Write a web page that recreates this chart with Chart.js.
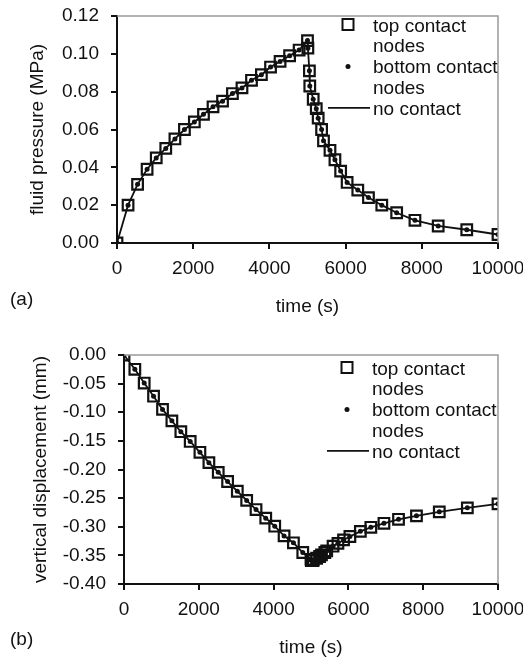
<!DOCTYPE html>
<html>
<head>
<meta charset="utf-8">
<script src="https://cdn.jsdelivr.net/npm/chart.js@4.4.1/dist/chart.umd.min.js"></script>
<style>
  html, body { margin: 0; padding: 0; background: #fff; }
  #wrap { position: relative; width: 523px; height: 660px; }
  canvas { position: absolute; left: 0; }
  #chartA { top: 0; }
  #chartB { top: 330px; }
</style>
</head>
<body>
<div id="wrap">
  <canvas id="chartA" width="523" height="330"></canvas>
  <canvas id="chartB" width="523" height="330"></canvas>
</div>
<script>
// time steps shared by both panels (s)
const time = [0, 290, 540, 790, 1030, 1280, 1520, 1770, 2030, 2270, 2520, 2770, 3030, 3280, 3530, 3790,
  4030, 4280, 4530, 4780, 5000, 5010, 5050, 5060, 5150, 5230, 5280, 5370, 5420, 5590, 5720, 5870,
  6040, 6320, 6600, 6950, 7340, 7820, 8430, 9180, 10000];

// (a) fluid pressure (MPa)
const pressure = [0.000, 0.020, 0.031, 0.039, 0.045, 0.050, 0.055, 0.060, 0.064, 0.068, 0.072, 0.075,
  0.079, 0.082, 0.086, 0.089, 0.093, 0.096, 0.099, 0.102, 0.107, 0.103, 0.091, 0.083, 0.076, 0.071,
  0.066, 0.060, 0.054, 0.049, 0.044, 0.038, 0.032, 0.028, 0.024, 0.020, 0.016, 0.012, 0.009, 0.007, 0.0045];

// (b) vertical displacement (mm)
const displacement = [0.000, -0.025, -0.049, -0.072, -0.095, -0.115, -0.134, -0.151, -0.170, -0.188,
  -0.205, -0.221, -0.238, -0.254, -0.270, -0.285, -0.299, -0.316, -0.328, -0.345, -0.357, -0.359,
  -0.359, -0.358, -0.355, -0.352, -0.349, -0.345, -0.342, -0.334, -0.329, -0.323, -0.317, -0.308,
  -0.301, -0.294, -0.287, -0.281, -0.274, -0.267, -0.260];

const legendLabels = [['top contact', 'nodes'], ['bottom contact', 'nodes'], ['no contact']];
const xTicks = [0, 2000, 4000, 6000, 8000, 10000];

const FONT = '"Liberation Sans", Arial, sans-serif';
const INK = '#111';

const toXY = (xs, ys) => xs.map((x, i) => ({ x: x, y: ys[i] }));

// frame, legend and panel letter
const decor = {
    id: 'decor',
    afterDatasetsDraw(chart, args, opts) {
        const { ctx, chartArea: a } = chart;
        ctx.save();
        // grey top and right edges
        ctx.strokeStyle = '#999';
        ctx.lineWidth = 1.5;
        ctx.beginPath();
        ctx.moveTo(a.left, a.top);
        ctx.lineTo(a.right, a.top);
        ctx.lineTo(a.right, a.bottom);
        ctx.stroke();

        // legend
        const lx = opts.legendX, ly = opts.legendY, step = 20.7, tx = opts.legendX + 25;
        ctx.fillStyle = INK;
        ctx.strokeStyle = INK;
        ctx.font = '19px ' + FONT;
        ctx.textBaseline = 'middle';
        ctx.textAlign = 'left';
        let row = 0;
        legendLabels.forEach((lines, k) => {
            const y = ly + row * step;
            if (k === 0) {
                ctx.lineWidth = 2;
                ctx.strokeRect(lx - 5.5, y - 6, 11, 11);
            } else if (k === 1) {
                ctx.beginPath();
                ctx.arc(lx, y, 2.5, 0, Math.PI * 2);
                ctx.fill();
            } else {
                ctx.lineWidth = 1.8;
                ctx.beginPath();
                ctx.moveTo(lx - 20, y);
                ctx.lineTo(lx + 22, y);
                ctx.stroke();
            }
            lines.forEach(t => {
                ctx.fillText(t, tx, ly + row * step + 1.5);
                row++;
            });
        });

        // panel letter
        ctx.fillText(opts.letter, 10, opts.letterY);
        ctx.restore();
    }
};

function makeChart(id, values, cfg) {
    const data = toXY(time, values);
    const fixY = s => { s.width = cfg.axisWidth; s.paddingTop = 0; s.paddingBottom = 0; };
    const fixX = s => { s.height = 75; s.paddingLeft = 0; s.paddingRight = 0; };
    return new Chart(document.getElementById(id), {
        type: 'scatter',
        data: {
            datasets: [
                {
                    label: 'bottom contact nodes',
                    data: data,
                    pointStyle: 'circle',
                    pointRadius: 2.5,
                    backgroundColor: INK,
                    borderColor: INK,
                    borderWidth: 0
                },
                {
                    label: 'top contact nodes',
                    data: data,
                    pointStyle: 'rect',
                    pointRadius: 7.5,
                    backgroundColor: 'rgba(0,0,0,0)',
                    borderColor: INK,
                    borderWidth: 2.2
                },
                {
                    label: 'no contact',
                    data: data,
                    showLine: true,
                    pointRadius: 0,
                    borderColor: INK,
                    borderWidth: 1.8,
                    tension: 0
                }
            ]
        },
        options: {
            responsive: false,
            animation: false,
            layout: { padding: { left: 0, right: 25, top: cfg.top, bottom: cfg.bottom } },
            plugins: {
                legend: { display: false },
                tooltip: { enabled: false },
                decor: cfg.decor
            },
            scales: {
                x: {
                    type: 'linear',
                    min: 0,
                    max: 10000,
                    afterFit: fixX,
                    afterBuildTicks: s => { s.ticks = xTicks.map(v => ({ value: v })); },
                    border: { display: true, color: INK, width: 2 },
                    grid: { drawOnChartArea: false, drawTicks: true, tickLength: 6, color: INK, lineWidth: 2 },
                    ticks: {
                        padding: 8,
                        maxRotation: 0,
                        color: INK,
                        font: { size: 19, family: FONT },
                        callback: v => String(v)
                    },
                    title: {
                        display: true,
                        text: 'time (s)',
                        color: INK,
                        font: { size: 19, family: FONT },
                        padding: { top: 0, bottom: 0 }
                    }
                },
                y: {
                    type: 'linear',
                    min: cfg.yMin,
                    max: cfg.yMax,
                    afterFit: fixY,
                    border: { display: true, color: INK, width: 2 },
                    grid: { drawOnChartArea: false, drawTicks: true, tickLength: 6, color: INK, lineWidth: 2 },
                    ticks: {
                        stepSize: cfg.yStep,
                        padding: 12,
                        color: INK,
                        font: { size: 19, family: FONT },
                        callback: v => v.toFixed(2)
                    },
                    title: {
                        display: true,
                        text: cfg.yTitle,
                        color: INK,
                        font: { size: 19, family: FONT },
                        padding: { top: cfg.titlePad, bottom: 0 }
                    }
                }
            }
        },
        plugins: [decor]
    });
}

makeChart('chartA', pressure, {
    yMin: 0, yMax: 0.12, yStep: 0.02,
    yTitle: 'fluid pressure (MPa)',
    axisWidth: 117, titlePad: 26,
    top: 16, bottom: 12,
    decor: { legendX: 348, legendY: 25, letter: '(a)', letterY: 300 }
});

makeChart('chartB', displacement, {
    yMin: -0.4, yMax: 0, yStep: 0.05,
    yTitle: 'vertical displacement (mm)',
    axisWidth: 124, titlePad: 29,
    top: 25, bottom: 1,
    decor: { legendX: 347, legendY: 38, letter: '(b)', letterY: 310 }
});
</script>
</body>
</html>
